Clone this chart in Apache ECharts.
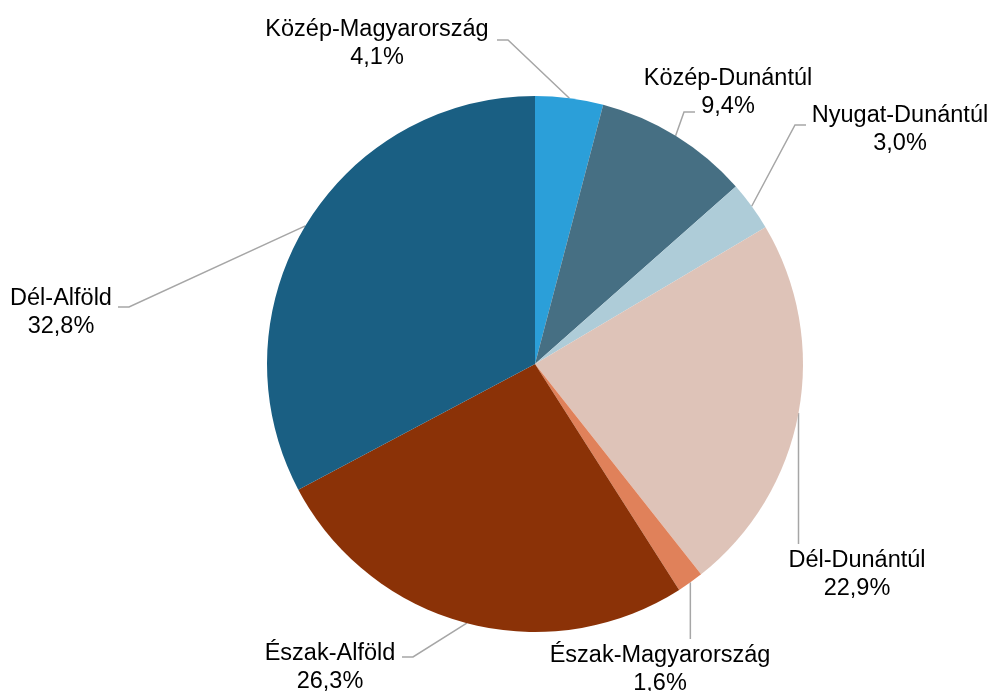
<!DOCTYPE html>
<html>
<head>
<meta charset="utf-8">
<script src="https://cdn.jsdelivr.net/npm/echarts@6/dist/echarts.min.js"></script>
<style>
  html, body { margin: 0; padding: 0; background: #fff; }
  #main { width: 992px; height: 691px; }
</style>
</head>
<body>
<div id="main"></div>
<script>
// régiók, óramutató járásával egyezően, 12 órától indulva
const regions = ['Közép-Magyarország', 'Közép-Dunántúl', 'Nyugat-Dunántúl', 'Dél-Dunántúl',
  'Észak-Magyarország', 'Észak-Alföld', 'Dél-Alföld']
const shares = [4.1, 9.4, 3.0, 22.9, 1.6, 26.3, 32.8]
const colors = ['#2B9FD9', '#466F83', '#AECCD8', '#DEC3B8', '#E0815A', '#8B3207', '#1A5F83']

// címkék középpontja (x, y)
const labelPos = [[377, 44], [728, 93], [900, 130], [857, 575], [660, 670], [330, 668], [61, 313]]
// vezetővonal vége a címke közepéhez képest; null = függőleges vonal a címke tetejéig
const lineEnd = [[120, -4], [-33, 19], [-94, -5], null, null, [72, -11], [57, -6]]
const ELBOW = 11

var chartDom = document.getElementById('main')
var myChart = echarts.init(chartDom)

var option = {
  animation: false,
  series: [
    {
      type: 'pie',
      center: [535, 364],
      radius: 268,
      startAngle: 90,
      clockwise: true,
      avoidLabelOverlap: false,
      data: regions.map((name, i) => ({
        name: name,
        value: shares[i],
        itemStyle: { color: colors[i] },
      })),
      label: {
        show: true,
        position: 'outside',
        formatter: (p) => p.name + '\n' + p.value.toFixed(1).replace('.', ',') + '%',
        fontFamily: 'Arial, "Liberation Sans", sans-serif',
        fontSize: 23.5,
        lineHeight: 28,
        color: '#000',
        align: 'center',
      },
      labelLine: {
        show: true,
        length: 10,
        length2: 10,
        lineStyle: { color: '#A6A6A6', width: 1.5 },
      },
      labelLayout: function (params) {
        const i = params.dataIndex
        const pos = labelPos[i]
        const p0 = params.labelLinePoints ? params.labelLinePoints[0] : null
        const out = { x: pos[0], y: pos[1], align: 'center', verticalAlign: 'middle' }
        if (p0) {
          const e = lineEnd[i]
          if (e) {
            const end = [pos[0] + e[0], pos[1] + e[1]]
            const dir = e[0] > 0 ? 1 : -1
            out.labelLinePoints = [[p0[0], p0[1]], [end[0] + dir * ELBOW, end[1]], end]
          } else {
            const top = pos[1] - params.labelRect.height / 2 - 3
            out.labelLinePoints = [[p0[0], p0[1]], [p0[0], (p0[1] + top) / 2], [p0[0], top]]
          }
        }
        return out
      },
      emphasis: { disabled: true },
    },
  ],
}

option && myChart.setOption(option)
</script>
</body>
</html>
